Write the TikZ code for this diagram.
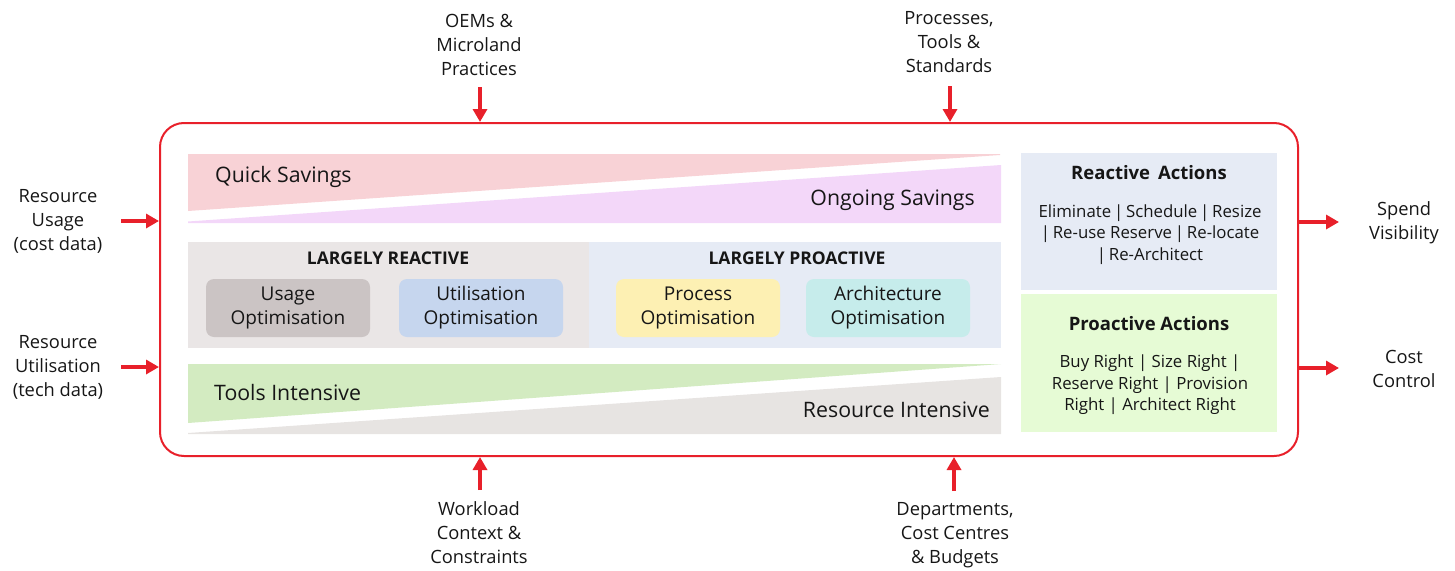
\documentclass[tikz,border=0pt]{standalone}
\usepackage{fontspec}
\setmainfont{Open Sans}
\usetikzlibrary{arrows.meta}
\definecolor{redc}{RGB}{232,32,42}
\definecolor{pinkc}{HTML}{F8D2D6}
\definecolor{purplec}{HTML}{F3D7F9}
\definecolor{graybg}{HTML}{EAE6E6}
\definecolor{bluebg}{HTML}{E6EBF5}
\definecolor{usagec}{HTML}{CBC4C4}
\definecolor{utilc}{HTML}{C6D6EE}
\definecolor{procc}{HTML}{FDF0B3}
\definecolor{archc}{HTML}{C6ECEB}
\definecolor{greenc}{HTML}{D3EBC1}
\definecolor{grayband}{HTML}{E7E4E2}
\definecolor{proactc}{HTML}{E6FBD5}
\definecolor{textc}{HTML}{161616}
\newcommand{\fsz}[2]{\fontsize{#1}{#2}\selectfont}
\begin{document}
\begin{tikzpicture}[x=1pt,y=-1pt,
  every node/.style={text=textc},
  arr/.style={draw=redc, line width=3.6pt, -{Triangle[length=13pt,width=14pt]}},
  bigtxt/.style={font=\fsz{21.3}{24}, inner sep=0pt},
  optbox/.style={rounded corners=8pt, minimum width=164pt, minimum height=58pt, inner sep=0pt, align=center, font=\fsz{19}{24}},
  head/.style={font=\bfseries\fsz{17.5}{20}, inner sep=0pt},
  outl/.style={align=center, font=\fsz{18.3}{24}, inner sep=0pt},
  panel/.style={anchor=north west, inner sep=0pt, outer sep=0pt},
  acthead/.style={font=\bfseries\fsz{18.5}{20}, inner sep=0pt},
  actbody/.style={align=center, font=\fsz{16.8}{21.5}, inner sep=0pt}
]
\useasboundingbox (0,0) rectangle (1455,570);

% main frame
\node[draw=redc, line width=2pt, rounded corners=24pt, minimum width=1138pt, minimum height=333pt, inner sep=0pt] (main) at (729,289.5) {};

% savings bands
\fill[pinkc] (188,154) -- (1000,154) -- (1000,155) -- (188,211) -- cycle;
\fill[purplec] (188,223) -- (1001,223) -- (1001,165) -- (188,221.5) -- cycle;
\node[bigtxt, anchor=west] (qs) at (215,177) {Quick Savings};
\node[bigtxt, anchor=east] (os) at (975,200) {Ongoing Savings};

% middle panels
\node[panel, fill=graybg, minimum width=401pt, minimum height=106pt] (reac) at (188,242) {};
\node[panel, fill=bluebg, minimum width=412pt, minimum height=106pt] (proac) at (589,242) {};
\node[head] (hr) at (388,258) {LARGELY REACTIVE};
\node[head] (hp) at (797,258) {LARGELY PROACTIVE};
\node[optbox, fill=usagec] (usage) at (288,308) {Usage\\Optimisation};
\node[optbox, fill=utilc] (util) at (481,308) {Utilisation\\Optimisation};
\node[optbox, fill=procc] (proc) at (698,308) {Process\\Optimisation};
\node[optbox, fill=archc] (arch) at (888,308) {Architecture\\Optimisation};

% intensity bands
\fill[greenc] (188,364) -- (1001,364) -- (188,423) -- cycle;
\fill[grayband] (188,434) -- (1001,434) -- (1001,377) -- (188,433) -- cycle;
\node[bigtxt, anchor=west] (ti) at (214,393) {Tools Intensive};
\node[bigtxt, anchor=east] (ri) at (990,410) {Resource Intensive};

% action boxes
\node[panel, fill=bluebg, minimum width=256pt, minimum height=137pt] (ra) at (1021,153) {};
\node[panel, fill=proactc, minimum width=256pt, minimum height=138pt] (pa) at (1021,294) {};
\node[acthead] (rah) at (1149,173) {Reactive\, Actions};
\node[actbody] (rab) at (1150,234.5) {Eliminate\,|\,Schedule\,|\,Resize\\|\,Re-use Reserve\,|\,Re-locate\\|\,Re-Architect};
\node[acthead] (pah) at (1149,324) {Proactive Actions};
\node[actbody] (pab) at (1150,385) {Buy Right | Size Right |\\Reserve Right | Provision\\Right | Architect Right};

% outside labels
\node[outl] (in1) at (58,221) {Resource\\Usage\\(cost data)};
\node[outl] (in2) at (58,367) {Resource\\Utilisation\\(tech data)};
\node[outl] (out1) at (1404,223) {Spend\\Visibility};
\node[outl] (out2) at (1404,369) {Cost\\Control};
\node[outl] (top1) at (479,45) {OEMs \&\\Microland\\Practices};
\node[outl] (top2) at (949,42) {Processes,\\Tools \&\\Standards};
\node[outl] (bot1) at (479,533) {Workload\\Context \&\\Constraints};
\node[outl] (bot2) at (955,535) {Departments,\\Cost Centres\\\& Budgets};

% arrows
\coordinate (l1) at (121,221);
\coordinate (l2) at (121,367);
\coordinate (r1) at (1339,222);
\coordinate (r2) at (1339,368);
\coordinate (t1) at (480,87);
\coordinate (t2) at (950,86);
\coordinate (b1) at (480,490);
\coordinate (b2) at (954,491);
\draw[arr] (l1) -- (l1 -| main.west);
\draw[arr] (l2) -- (l2 -| main.west);
\draw[arr] (main.east |- r1) -- (r1);
\draw[arr] (main.east |- r2) -- (r2);
\draw[arr] (t1) -- (t1 |- main.north);
\draw[arr] (t2) -- (t2 |- main.north);
\draw[arr] (b1) -- (b1 |- main.south);
\draw[arr] (b2) -- (b2 |- main.south);
\end{tikzpicture}
\end{document}
